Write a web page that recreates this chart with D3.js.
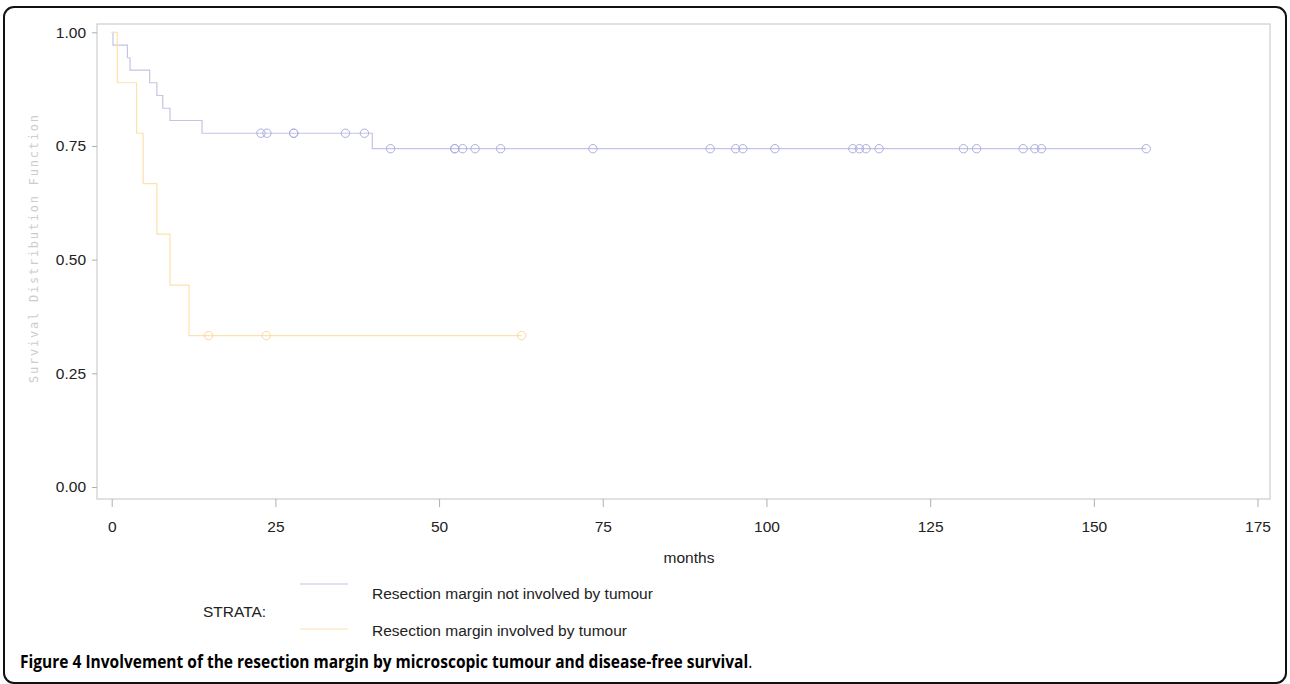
<!DOCTYPE html>
<html><head><meta charset="utf-8">
<script src="https://cdn.jsdelivr.net/npm/d3@7"></script>
<style>html,body{margin:0;padding:0;background:#fff;}svg{display:block;}</style>
</head><body>
<svg id="chart" width="1290" height="684"></svg>
<script>
// ---- data ----
const xTicks = [0, 25, 50, 75, 100, 125, 150, 175];
const yTicks = [0, 0.25, 0.5, 0.75, 1.0];
const yTickLabels = ["0.00", "0.25", "0.50", "0.75", "1.00"];

// Not involved: step times (months) and survival after each step
const notInvTimes = [0, 0.2, 2.4, 2.8, 5.8, 6.9, 7.8, 8.9, 13.8, 39.8, 158];
const notInvSurv  = [1.0, 0.972, 0.944, 0.917, 0.889, 0.861, 0.833, 0.806, 0.778, 0.744, 0.744];
const notInvCensTimes = [22.8, 23.7, 27.8, 27.8, 35.7, 38.6, 42.6, 52.4, 52.4, 53.6, 55.5, 59.4, 73.5, 91.4, 95.3, 96.4, 101.3, 113.2, 114.2, 115.2, 117.2, 130.1, 132.1, 139.2, 141, 142, 158];
const notInvCensSurv  = [0.778, 0.778, 0.778, 0.778, 0.778, 0.778, 0.744, 0.744, 0.744, 0.744, 0.744, 0.744, 0.744, 0.744, 0.744, 0.744, 0.744, 0.744, 0.744, 0.744, 0.744, 0.744, 0.744, 0.744, 0.744, 0.744, 0.744];

// Involved
const invTimes = [0, 0.85, 3.8, 4.8, 6.9, 8.9, 11.8, 62.6];
const invSurv  = [1.0, 0.889, 0.778, 0.667, 0.556, 0.444, 0.333, 0.333];
const invCensTimes = [14.8, 23.6, 62.6];
const invCensSurv  = [0.333, 0.333, 0.333];

const strataLabels = ["Resection margin not involved by tumour", "Resection margin involved by tumour"];
const strataColors = ["#c4c4e6", "#fde2ae"];
const censorColors = ["#aeaee0", "#fcd89c"];

// ---- drawing ----
const svg = d3.select("#chart");
const font = "'Liberation Sans', Arial, sans-serif";
const fs = 15.5;

// outer figure border
svg.append("rect").attr("x", 4).attr("y", 7).attr("width", 1282).attr("height", 676)
  .attr("rx", 10).attr("fill", "none").attr("stroke", "#111").attr("stroke-width", 2);

const frame = {left: 97, top: 24, right: 1270, bottom: 499};
const x = d3.scaleLinear().domain([0, 175]).range([111.7, 1257.5]);
const y = d3.scaleLinear().domain([0, 1]).range([487, 32.3]);

svg.append("rect").attr("x", frame.left).attr("y", frame.top)
  .attr("width", frame.right - frame.left).attr("height", frame.bottom - frame.top)
  .attr("fill", "none").attr("stroke", "#cdcdcd").attr("stroke-width", 1.2);

// y axis
const yAxis = d3.axisLeft(y).tickValues(yTicks).tickSize(5).tickPadding(6)
  .tickFormat((d, i) => yTickLabels[i]);
const gy = svg.append("g").attr("transform", `translate(${frame.left},0)`).call(yAxis);
gy.select(".domain").remove();
gy.selectAll("line").attr("stroke", "#b0b0b0");
gy.selectAll("text").attr("font-family", font).attr("font-size", fs).attr("fill", "#222");

// x axis
const xAxis = d3.axisBottom(x).tickValues(xTicks).tickSize(8).tickPadding(14).tickFormat(d3.format("d"));
const gx = svg.append("g").attr("transform", `translate(0,${frame.bottom})`).call(xAxis);
gx.select(".domain").remove();
gx.selectAll("line").attr("stroke", "#b0b0b0");
gx.selectAll("text").attr("font-family", font).attr("font-size", fs).attr("fill", "#222");

// axis titles
svg.append("text").attr("x", 689).attr("y", 563).attr("text-anchor", "middle")
  .attr("font-family", font).attr("font-size", fs).attr("fill", "#222").text("months");

svg.append("text").attr("transform", "translate(38,249) rotate(-90)")
  .attr("text-anchor", "middle").attr("font-family", "'DejaVu Sans Mono', monospace")
  .attr("font-size", 12).attr("fill", "#cdcdcd").attr("textLength", 268)
  .attr("lengthAdjust", "spacing").text("Survival Distribution Function");

// curves
const line = d3.line().x(d => x(d[0])).y(d => y(d[1])).curve(d3.curveStepAfter);
const series = [
  {t: notInvTimes, s: notInvSurv, ct: notInvCensTimes, cs: notInvCensSurv},
  {t: invTimes, s: invSurv, ct: invCensTimes, cs: invCensSurv}
];
series.forEach((sr, i) => {
  svg.append("path").datum(sr.t.map((t, j) => [t, sr.s[j]]))
    .attr("d", line).attr("fill", "none").attr("stroke", strataColors[i]).attr("stroke-width", 1.2);
  svg.append("g").selectAll("circle").data(sr.ct.map((t, j) => [t, sr.cs[j]])).join("circle")
    .attr("cx", d => x(d[0])).attr("cy", d => y(d[1])).attr("r", 4.2)
    .attr("fill", "none").attr("stroke", censorColors[i]).attr("stroke-width", 1);
});

// legend
svg.append("text").attr("x", 203).attr("y", 617).attr("font-family", font)
  .attr("font-size", fs).attr("fill", "#222").text("STRATA:");
const legY = [584, 629];
const legTextY = [599, 636];
strataLabels.forEach((lab, i) => {
  svg.append("line").attr("x1", 300).attr("x2", 348).attr("y1", legY[i]).attr("y2", legY[i])
    .attr("stroke", strataColors[i]).attr("stroke-width", 1.2);
  svg.append("text").attr("x", 372).attr("y", legTextY[i]).attr("font-family", font)
    .attr("font-size", fs).attr("fill", "#222").text(lab);
});

// caption
const cap = svg.append("text").attr("x", 20).attr("y", 668)
  .attr("font-family", "'Open Sans', 'Noto Sans', sans-serif").attr("font-size", 17.5).attr("fill", "#000");
cap.append("tspan").attr("font-weight", "bold").text("Figure 4");
cap.append("tspan").attr("font-weight", "bold").text(" Involvement of the resection margin by microscopic tumour and disease-free survival");
cap.append("tspan").attr("font-weight", "normal").text(".");
const w = cap.node().getComputedTextLength();
const target = 733;
cap.attr("transform", `translate(20,0) scale(${target / w},1) translate(-20,0)`);
</script>
</body></html>
